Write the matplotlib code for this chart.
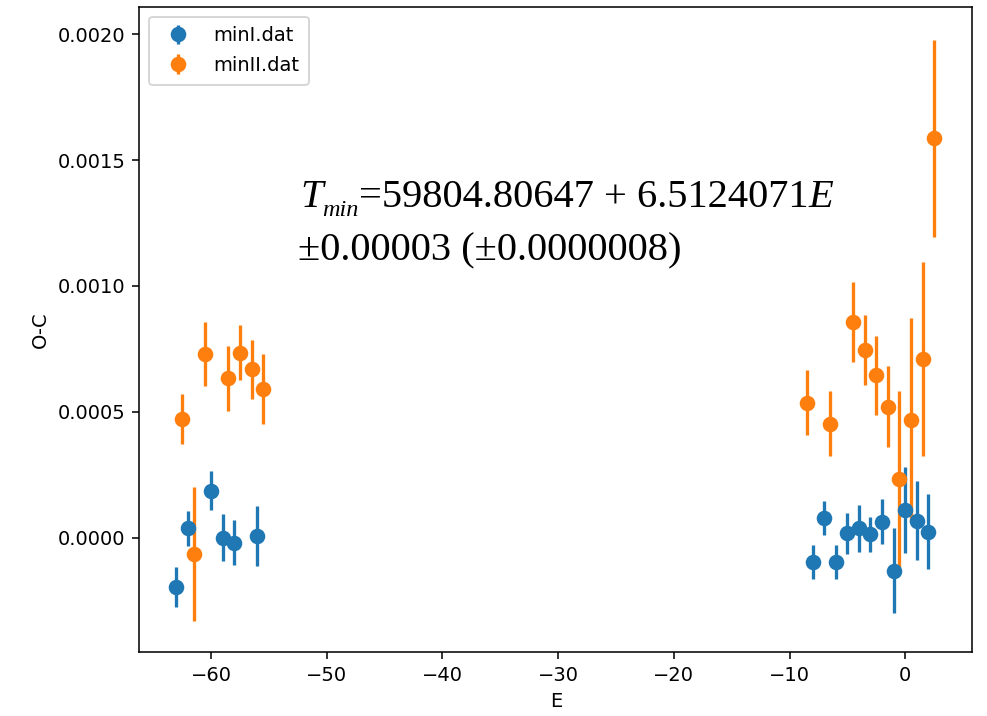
import numpy as np
import matplotlib
matplotlib.use("Agg")
import matplotlib.pyplot as plt

# primary minima (minI.dat)
E1 = [-63, -62, -60, -59, -58, -56, -8, -7, -6, -5, -4, -3, -2, -1, 0, 1, 2]
oc1 = [-0.000196, 0.000036, 0.000186, 0.0000, -0.00002, 0.000006,
       -0.000097, 0.000078, -0.000097, 0.000016, 0.000036, 0.000012,
       0.000063, -0.000132, 0.000109, 0.000067, 0.000023]
err1 = [0.00008, 0.000068, 0.000078, 0.000092, 0.00009, 0.00012,
        0.000068, 0.000069, 0.000068, 0.00008, 0.000092, 0.000071,
        0.00009, 0.000169, 0.00017, 0.000158, 0.00015]

# secondary minima (minII.dat)
E2 = [-62.5, -61.5, -60.5, -58.5, -57.5, -56.5, -55.5,
      -8.5, -6.5, -4.5, -3.5, -2.5, -1.5, -0.5, 0.5, 1.5, 2.5]
oc2 = [0.000471, -0.000066, 0.000728, 0.000632, 0.000734, 0.000668, 0.000591,
       0.000536, 0.000453, 0.000857, 0.000745, 0.000644, 0.00052, 0.000233,
       0.000467, 0.000709, 0.001586]
err2 = [0.0001, 0.000267, 0.000127, 0.00013, 0.00011, 0.000118, 0.000139,
        0.000128, 0.000128, 0.00016, 0.000139, 0.000157, 0.00016, 0.00035,
        0.000404, 0.000387, 0.00039]

fig = plt.figure(figsize=(987 / 140, 716 / 140), dpi=140)
ax = fig.add_axes([139.3 / 987, 64 / 716, 833 / 987, 645.2 / 716])

ax.errorbar(E1, oc1, yerr=err1, fmt='o', ms=7, elinewidth=1.7, label='minI.dat')
ax.errorbar(E2, oc2, yerr=err2, fmt='o', ms=7, elinewidth=1.7, label='minII.dat')

ax.set_xlim(-66.2, 5.8)
ax.set_ylim(-0.000455, 0.002109)
ax.set_xlabel('E')
ax.set_ylabel('O-C')
ax.legend(loc='upper left', borderpad=0.5, labelspacing=0.55)

# ephemeris: T_min = ... + ...E, pieces chained one after another
serif = 'Liberation Serif'
fs = 20.8
t_T = fig.text(300 / 987, 1 - 207 / 716, 'T', family=serif, style='italic',
               fontsize=fs, va='baseline')
t_min = ax.annotate('min', xy=(1, 0), xycoords=t_T, family=serif,
                    style='italic', fontsize=12.5, va='baseline', ha='left')
t_mid = ax.annotate('=59804.80647 + 6.5124071', xy=(1, 0),
                    xycoords=(t_min, t_T), family=serif, fontsize=fs,
                    va='bottom', ha='left')
ax.annotate('E', xy=(1, 0), xycoords=(t_mid, t_T), family=serif,
            style='italic', fontsize=fs, va='bottom', ha='left')

fig.text(298 / 987, 1 - 260 / 716, '±0.00003 (±0.0000008)',
         family=serif, fontsize=fs, va='baseline')

fig.savefig('out.png', dpi=140)
